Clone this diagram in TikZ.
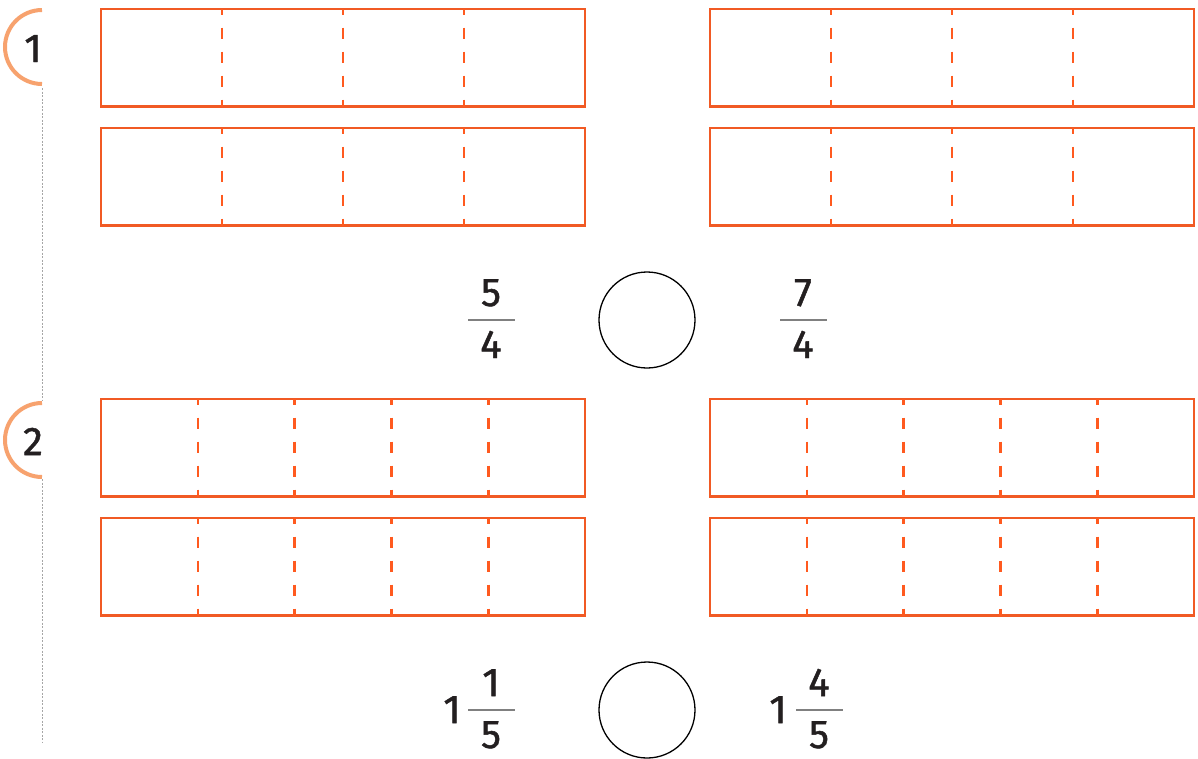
\documentclass[tikz,border=0pt]{standalone}
\usepackage{fontspec}
\setmainfont{Fira Sans}
\newfontfamily\numfont{Fira Sans}[FakeBold=1.2]
\definecolor{boxor}{HTML}{F15A24}
\definecolor{dashor}{HTML}{FF5A1F}
\definecolor{badgeor}{HTML}{F7A26E}
\definecolor{txt}{HTML}{231F20}
\begin{document}
\begin{tikzpicture}[x=1pt,y=-1pt,
  barbox/.style={draw=boxor,line width=2.8pt},
  divline/.style={draw=dashor,line width=2.6pt,dash pattern=on 11.5pt off 12.5pt,dash phase=5.5pt},
  cmpcircle/.style={draw=black,line width=1.3pt,circle,minimum size=96pt,inner sep=0pt},
  numtxt/.style={text=txt,font=\numfont\fontsize{40}{44}\selectfont,inner sep=0pt,anchor=base},
  fracbar/.style={draw=gray,line width=1.3pt},
  badgearc/.style={draw=badgeor,line width=4pt},
  guide/.style={draw=gray!70,line width=1pt,dash pattern=on 2pt off 1.5pt}]
\useasboundingbox (0,0) rectangle (1198,758);
% guide line
\draw[guide] (42,88) -- (42,400);
\draw[guide] (42,479) -- (42,742);
% badges
\draw[badgearc] (42,10) arc[start angle=90,end angle=270,radius=37pt];
\node[numtxt] (b1) at (33,62) {1};
\draw[badgearc] (42,403) arc[start angle=90,end angle=270,radius=37pt];
\node[numtxt] (b2) at (33,455) {2};
% row 1 boxes (quarters)
\foreach \x in {101,710}{
  \foreach \y in {9,128}{
    \draw[barbox] (\x,\y) rectangle ++(484,97.5);
    \foreach \k in {1,2,3}{
      \draw[divline] ({\x+\k*121},\y) -- ++(0,97.5);
    }
  }
}
% row 2 boxes (fifths)
\foreach \x in {101,710}{
  \foreach \y in {399,518}{
    \draw[barbox] (\x,\y) rectangle ++(484,97.5);
    \foreach \k in {1,2,3,4}{
      \draw[divline] ({\x+\k*96.8},\y) -- ++(0,97.5);
    }
  }
}
% comparison circles
\node[cmpcircle] (c1) at (647,320) {};
\node[cmpcircle] (c2) at (647,710) {};
% fractions set 1
\draw[fracbar] (468,320) -- (515,320);
\node[numtxt] (n1) at (491,306) {5};
\node[numtxt] (d1) at (491,358) {4};
\draw[fracbar] (780,320) -- (827,320);
\node[numtxt] (n2) at (803,306) {7};
\node[numtxt] (d2) at (803,358) {4};
% fractions set 2
\node[numtxt] (w3) at (452,723) {1};
\draw[fracbar] (468,710) -- (515,710);
\node[numtxt] (n3) at (491,696) {1};
\node[numtxt] (d3) at (491,748) {5};
\node[numtxt] (w4) at (778,723) {1};
\draw[fracbar] (796,710) -- (843,710);
\node[numtxt] (n4) at (819,696) {4};
\node[numtxt] (d4) at (819,748) {5};
\end{tikzpicture}
\end{document}
